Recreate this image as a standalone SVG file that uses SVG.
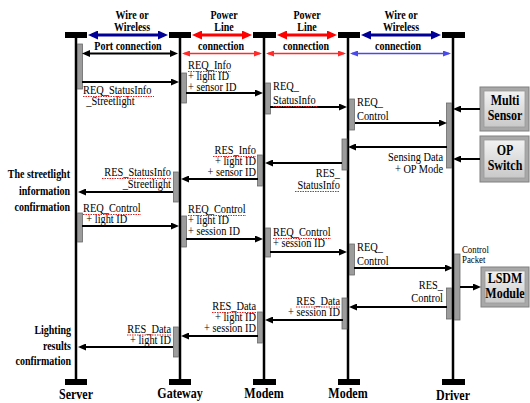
<svg xmlns="http://www.w3.org/2000/svg" width="530" height="403" viewBox="0 0 530 403" font-family="'Liberation Serif', 'Times New Roman', serif">
<style>
text{font-family:"Liberation Serif","Times New Roman","DejaVu Serif",serif;fill:#000}
.h{font-size:12.5px;font-weight:bold;text-anchor:middle}
.m{font-size:12.5px}
.e{text-anchor:end}
.lb{font-size:12.5px;font-weight:bold;text-anchor:end}
.bt{font-size:15px;font-weight:bold;text-anchor:middle}
.bx{font-size:15px;font-weight:bold;text-anchor:middle}
.life{stroke:#000;stroke-width:2.5}
.cap{fill:#000}
.act{fill:#9c9c9c;stroke:#6a6a6a;stroke-width:0.8}
.msg{stroke:#000;stroke-width:2;fill:none;marker-end:url(#mB)}
.dbl{marker-start:url(#mB)}
.hb{stroke:#000099;stroke-width:3;marker-start:url(#mHB);marker-end:url(#mHB)}
.hr{stroke:#ff0000;stroke-width:3;marker-start:url(#mHR);marker-end:url(#mHR)}
.tr{stroke:#ff2a2a;stroke-width:1.3;marker-start:url(#mTR);marker-end:url(#mTR)}
.tb{stroke:#4a4ae6;stroke-width:1.3;marker-start:url(#mTB);marker-end:url(#mTB)}
.sq{stroke:#e02020;stroke-width:1.2;stroke-dasharray:1.5 1}
.bo{fill:#a8a8a8;stroke:#808080;stroke-width:1}
.bi{fill:url(#gF);stroke:#9a9a9a;stroke-width:0.8}
</style>
<defs>
<linearGradient id="gF" x1="0" y1="0" x2="0" y2="1">
<stop offset="0" stop-color="#f2f2f2"/>
<stop offset="1" stop-color="#c9c9c9"/>
</linearGradient>
<marker id="mB" markerUnits="userSpaceOnUse" markerWidth="8" markerHeight="7" refX="5" refY="3.5" orient="auto-start-reverse"><path d="M0,0 L8,3.5 L0,7 z" fill="#000"/></marker>
<marker id="mHB" markerUnits="userSpaceOnUse" markerWidth="10" markerHeight="9" refX="6" refY="4.5" orient="auto-start-reverse"><path d="M0,0 L10,4.5 L0,9 z" fill="#000099"/></marker>
<marker id="mHR" markerUnits="userSpaceOnUse" markerWidth="10" markerHeight="9" refX="6" refY="4.5" orient="auto-start-reverse"><path d="M0,0 L10,4.5 L0,9 z" fill="#ff0000"/></marker>
<marker id="mTR" markerUnits="userSpaceOnUse" markerWidth="8" markerHeight="6" refX="6" refY="3" orient="auto-start-reverse"><path d="M0,0 L8,3 L0,6 z" fill="#ff2a2a"/></marker>
<marker id="mTB" markerUnits="userSpaceOnUse" markerWidth="8" markerHeight="6" refX="6" refY="3" orient="auto-start-reverse"><path d="M0,0 L8,3 L0,6 z" fill="#4a4ae6"/></marker>
</defs>
<rect width="530" height="403" fill="#fff"/>

<g id="headers">
<text class="h" transform="translate(132,19) scale(.8,1)">Wire or</text>
<text class="h" transform="translate(132,30.5) scale(.8,1)">Wireless</text>
<text class="h" transform="translate(224,19) scale(.8,1)">Power</text>
<text class="h" transform="translate(224,30.5) scale(.8,1)">Line</text>
<text class="h" transform="translate(307,19) scale(.8,1)">Power</text>
<text class="h" transform="translate(307,30.5) scale(.8,1)">Line</text>
<text class="h" transform="translate(401,19) scale(.8,1)">Wire or</text>
<text class="h" transform="translate(401,30.5) scale(.8,1)">Wireless</text>
<text class="h" transform="translate(128,50) scale(.8,1)">Port connection</text>
<text class="h" transform="translate(221,50) scale(.8,1)">connection</text>
<text class="h" transform="translate(306,50) scale(.8,1)">connection</text>
<text class="h" transform="translate(398,50) scale(.8,1)">connection</text>
</g>

<g id="server">
<line class="life" x1="76" y1="37" x2="76" y2="380"/>
<rect class="cap" x="65" y="32" width="22" height="6"/>
<rect class="cap" x="65" y="379" width="22" height="6"/>
<text class="bt" transform="translate(76,399) scale(.8,1)">Server</text>
<rect class="act" x="77.5" y="44" width="5" height="45"/>
<rect class="act" x="77.5" y="213" width="5" height="29"/>
</g>
<g id="gateway">
<line class="life" x1="180" y1="37" x2="180" y2="380"/>
<rect class="cap" x="169" y="32" width="22" height="6"/>
<rect class="cap" x="169" y="379" width="22" height="6"/>
<text class="bt" transform="translate(180,398) scale(.8,1)">Gateway</text>
<rect class="act" x="181.5" y="73" width="5" height="30"/>
<rect class="act" x="173.5" y="172" width="5" height="30"/>
<rect class="act" x="181.5" y="216" width="5" height="31"/>
<rect class="act" x="173.5" y="327" width="5" height="30"/>
</g>
<g id="modem1">
<line class="life" x1="264" y1="37" x2="264" y2="380"/>
<rect class="cap" x="253" y="32" width="23" height="6"/>
<rect class="cap" x="253" y="379" width="23" height="6"/>
<text class="bt" transform="translate(264,398) scale(.8,1)">Modem</text>
<rect class="act" x="265.5" y="83" width="5" height="31"/>
<rect class="act" x="257.5" y="155" width="5" height="31"/>
<rect class="act" x="265.5" y="228" width="5" height="29"/>
<rect class="act" x="257.5" y="312" width="5" height="31"/>
</g>
<g id="modem2">
<line class="life" x1="348" y1="37" x2="348" y2="380"/>
<rect class="cap" x="338" y="32" width="22" height="6"/>
<rect class="cap" x="338" y="379" width="22" height="6"/>
<text class="bt" transform="translate(348,398) scale(.8,1)">Modem</text>
<rect class="act" x="349.5" y="99" width="5" height="31"/>
<rect class="act" x="342" y="139" width="5" height="31"/>
<rect class="act" x="349.5" y="244" width="5" height="31"/>
<rect class="act" x="342" y="298" width="5" height="31"/>
</g>
<g id="driver">
<line class="life" x1="453" y1="37" x2="453" y2="380"/>
<rect class="cap" x="442" y="32" width="23" height="6"/>
<rect class="cap" x="442" y="379" width="23" height="6"/>
<text class="bt" transform="translate(453,400) scale(.8,1)">Driver</text>
<rect class="act" x="446.5" y="103" width="5" height="65"/>
<rect class="act" x="454.5" y="254" width="5.5" height="66"/>
<rect class="act" x="446.5" y="288" width="5" height="31"/>
</g>

<g id="multisensor">
<rect class="bo" x="480" y="87" width="49" height="44"/>
<rect class="bi" x="484" y="91" width="41" height="36"/>
<text class="bx" transform="translate(505,105) scale(.8,1)">Multi</text>
<text class="bx" transform="translate(505,120) scale(.8,1)">Sensor</text>
</g>
<g id="opswitch">
<rect class="bo" x="480" y="136" width="49" height="46"/>
<rect class="bi" x="484" y="140" width="41" height="38"/>
<text class="bx" transform="translate(505,155) scale(.8,1)">OP</text>
<text class="bx" transform="translate(505,170) scale(.8,1)">Switch</text>
</g>
<g id="lsdm">
<rect class="bo" x="481" y="267" width="48" height="40"/>
<rect class="bi" x="485" y="271" width="40" height="32"/>
<text class="bx" transform="translate(505,283) scale(.8,1)">LSDM</text>
<text class="bx" transform="translate(505,298) scale(.8,1)">Module</text>
</g>

<g id="notes">
<text class="lb" transform="translate(70,178) scale(.8,1)">The streetlight</text>
<text class="lb" transform="translate(70,195) scale(.8,1)">information</text>
<text class="lb" transform="translate(70,211) scale(.8,1)">confirmation</text>
<text class="lb" transform="translate(71,334) scale(.8,1)">Lighting</text>
<text class="lb" transform="translate(71,349.5) scale(.8,1)">results</text>
<text class="lb" transform="translate(71,365) scale(.8,1)">confirmation</text>
</g>

<g id="connectors">
<line class="hb" x1="92" y1="35" x2="164" y2="35"/>
<line class="hr" x1="196" y1="35" x2="248" y2="35"/>
<line class="hr" x1="281" y1="35" x2="333" y2="35"/>
<line class="hb" x1="365" y1="35" x2="437" y2="35"/>
<line class="msg dbl" x1="85" y1="53.5" x2="175" y2="53.5"/>
<line class="tr" x1="184" y1="53.5" x2="260" y2="53.5"/>
<line class="tr" x1="268" y1="53.5" x2="344" y2="53.5"/>
<line class="tb" x1="352" y1="53.5" x2="449" y2="53.5"/>

<line class="msg" x1="82" y1="82" x2="176" y2="82"/>
<line class="msg" x1="186" y1="93" x2="260" y2="93"/>
<line class="msg" x1="270" y1="107" x2="344" y2="107"/>
<line class="msg" x1="355" y1="123" x2="444" y2="123"/>
<line class="msg" x1="480" y1="109" x2="456" y2="109"/>
<line class="msg" x1="480" y1="159" x2="456" y2="159"/>
<line class="msg" x1="447" y1="147" x2="351" y2="147"/>
<line class="msg" x1="342" y1="163" x2="268" y2="163"/>
<line class="msg" x1="258" y1="179" x2="184" y2="179"/>
<line class="msg" x1="173" y1="192" x2="81" y2="192"/>
<line class="msg" x1="82" y1="226" x2="176" y2="226"/>
<line class="msg" x1="186" y1="239" x2="260" y2="239"/>
<line class="msg" x1="270" y1="252" x2="344" y2="252"/>
<line class="msg" x1="354" y1="268" x2="450" y2="268"/>
<line class="msg" x1="460" y1="287" x2="478" y2="287"/>
<line class="msg" x1="447" y1="307" x2="352" y2="307"/>
<line class="msg" x1="343" y1="320" x2="268" y2="320"/>
<line class="msg" x1="258" y1="336" x2="184" y2="336"/>
<line class="msg" x1="173" y1="347" x2="81" y2="347"/>
</g>

<g id="labels">
<text class="m" transform="translate(83,94) scale(.83,1)"><tspan x="0">REQ_StatusInfo</tspan><tspan x="4" dy="11">_Streetlight</tspan></text>
<text class="m" transform="translate(188,69) scale(.83,1)"><tspan x="0">REQ_Info</tspan><tspan x="0" dy="11">+ light ID</tspan><tspan x="0" dy="11">+ sensor ID</tspan></text>
<text class="m" transform="translate(273,90) scale(.83,1)"><tspan x="0">REQ_</tspan><tspan x="0" dy="14">StatusInfo</tspan></text>
<text class="m" transform="translate(357,106) scale(.83,1)"><tspan x="0">REQ_</tspan><tspan x="0" dy="14">Control</tspan></text>
<text class="m e" transform="translate(443,161) scale(.83,1)"><tspan x="0">Sensing Data</tspan><tspan x="0" dy="12">+ OP Mode</tspan></text>
<text class="m e" transform="translate(340,177) scale(.83,1)"><tspan x="0">RES_</tspan><tspan x="0" dy="12">StatusInfo</tspan></text>
<text class="m e" transform="translate(256,154) scale(.83,1)"><tspan x="0">RES_Info</tspan><tspan x="0" dy="11">+ light ID</tspan><tspan x="0" dy="11">+ sensor ID</tspan></text>
<text class="m e" transform="translate(171,176) scale(.83,1)"><tspan x="0">RES_StatusInfo</tspan><tspan x="0" dy="12">_Streetlight</tspan></text>
<text class="m" transform="translate(83,212) scale(.83,1)"><tspan x="0">REQ_Control</tspan><tspan x="4" dy="11">+ light ID</tspan></text>
<text class="m" transform="translate(188,213) scale(.83,1)"><tspan x="0">REQ_Control</tspan><tspan x="0" dy="11">+ light ID</tspan><tspan x="0" dy="11">+ session ID</tspan></text>
<text class="m" transform="translate(273,236) scale(.83,1)"><tspan x="0">REQ_Control</tspan><tspan x="0" dy="11">+ session ID</tspan></text>
<text class="m" transform="translate(357,251) scale(.83,1)"><tspan x="0">REQ_</tspan><tspan x="0" dy="14">Control</tspan></text>
<text class="m" style="font-size:11px" transform="translate(462,253) scale(.8,1)"><tspan x="0">Control</tspan><tspan x="0" dy="10">Packet</tspan></text>
<text class="m e" transform="translate(443,289) scale(.83,1)"><tspan x="0">RES_</tspan><tspan x="0" dy="13">Control</tspan></text>
<text class="m e" transform="translate(340,305) scale(.83,1)"><tspan x="0">RES_Data</tspan><tspan x="0" dy="10.5">+ session ID</tspan></text>
<text class="m e" transform="translate(256,310) scale(.83,1)"><tspan x="0">RES_Data</tspan><tspan x="0" dy="11">+ light ID</tspan><tspan x="0" dy="11">+ session ID</tspan></text>
<text class="m e" transform="translate(171,333) scale(.83,1)"><tspan x="0">RES_Data</tspan><tspan x="0" dy="10.5">+ light ID</tspan></text>
</g>

<g id="squiggles">
<line class="sq" x1="83" y1="96.5" x2="154" y2="96.5"/>
<line class="sq" x1="188" y1="71.5" x2="231" y2="71.5"/>
<line class="sq" x1="273" y1="106.5" x2="317" y2="106.5"/>
<line class="sq" x1="213" y1="156.5" x2="256" y2="156.5"/>
<line class="sq" x1="102" y1="178.5" x2="171" y2="178.5"/>
<line class="sq" x1="295" y1="191.5" x2="340" y2="191.5"/>
<line class="sq" x1="83" y1="214.5" x2="141" y2="214.5"/>
<line class="sq" x1="188" y1="215.5" x2="246" y2="215.5"/>
<line class="sq" x1="273" y1="238.5" x2="331" y2="238.5"/>
<line class="sq" x1="296" y1="307" x2="340" y2="307"/>
<line class="sq" x1="212" y1="312.5" x2="256" y2="312.5"/>
<line class="sq" x1="127" y1="335" x2="171" y2="335"/>
</g>
</svg>
